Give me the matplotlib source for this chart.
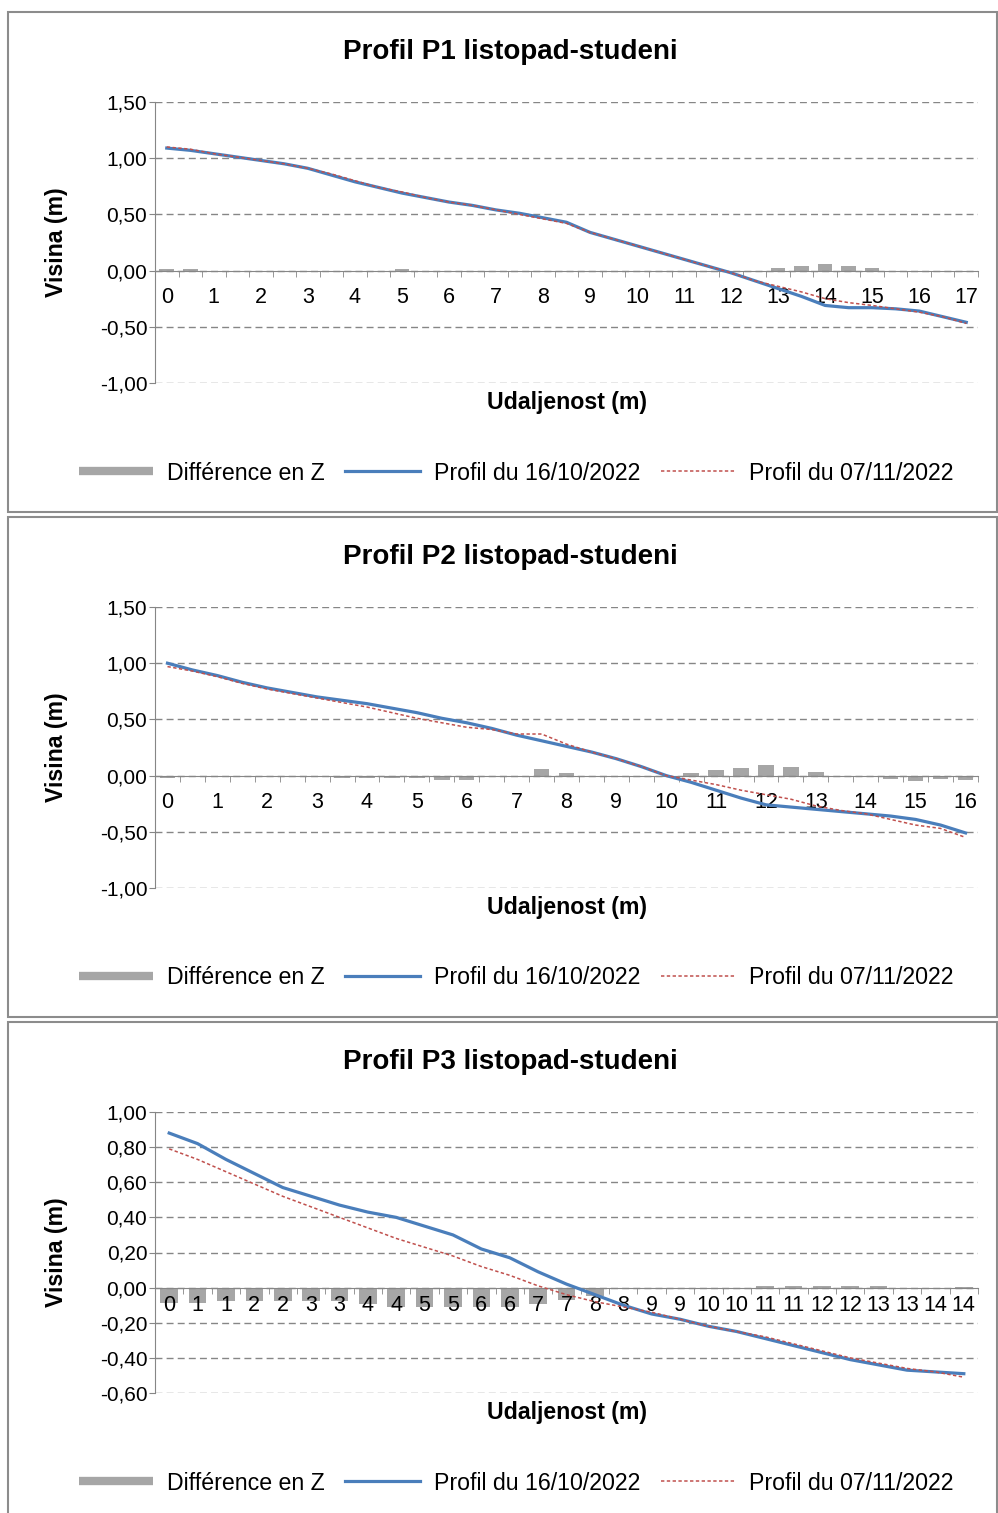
import numpy as np
import matplotlib
matplotlib.use('Agg')
from matplotlib import pyplot as plt
from matplotlib.lines import Line2D
from matplotlib.patches import Rectangle
from matplotlib.ticker import FuncFormatter

plt.rcParams['font.family'] = ['Liberation Sans', 'DejaVu Sans']

# ---- data (one point every 0.5 m) ----
p1_labels = [str(i) for i in range(18)]
p1_diff = [0.01, 0.01, 0, 0, 0, 0, 0, 0, 0, 0, 0.01, 0, 0, 0, 0, -0.01, -0.01, -0.01,
           0, 0, 0, 0, 0, 0, 0, 0, 0.02, 0.04, 0.06, 0.045, 0.02, 0, 0, 0, 0]
p1_oct = [1.09, 1.07, 1.04, 1.01, 0.98, 0.95, 0.91, 0.85, 0.79, 0.74, 0.69, 0.65,
          0.61, 0.58, 0.54, 0.51, 0.47, 0.43, 0.34, 0.28, 0.22, 0.16, 0.10, 0.04,
          -0.02, -0.09, -0.16, -0.23, -0.31, -0.33, -0.33, -0.34, -0.36, -0.41, -0.46]
p1_nov = [1.10, 1.08, 1.04, 1.01, 0.98, 0.95, 0.91, 0.86, 0.80, 0.74, 0.70, 0.65,
          0.61, 0.58, 0.54, 0.50, 0.46, 0.42, 0.34, 0.28, 0.22, 0.16, 0.10, 0.04,
          -0.02, -0.09, -0.14, -0.19, -0.25, -0.285, -0.31, -0.34, -0.37, -0.41, -0.47]

p2_labels = [str(i) for i in range(17)]
p2_diff = [-0.02, -0.01, -0.01, -0.01, -0.01, -0.01, -0.01, -0.02, -0.02, -0.02, -0.02,
           -0.04, -0.04, -0.01, 0, 0.06, 0.02, 0, 0, 0, 0, 0.02, 0.05, 0.07, 0.09,
           0.075, 0.03, 0, 0, -0.03, -0.05, -0.03, -0.04]
p2_oct = [1.00, 0.94, 0.89, 0.83, 0.78, 0.74, 0.70, 0.67, 0.64, 0.60, 0.56, 0.51,
          0.47, 0.42, 0.36, 0.31, 0.26, 0.21, 0.15, 0.08, 0.00, -0.06, -0.13, -0.20,
          -0.26, -0.28, -0.30, -0.32, -0.34, -0.36, -0.39, -0.44, -0.51]
p2_nov = [0.97, 0.93, 0.88, 0.82, 0.77, 0.73, 0.69, 0.65, 0.61, 0.56, 0.51, 0.47,
          0.43, 0.41, 0.37, 0.37, 0.28, 0.21, 0.15, 0.08, 0.00, -0.04, -0.08, -0.13,
          -0.17, -0.21, -0.27, -0.31, -0.34, -0.39, -0.44, -0.47, -0.55]

p3_labels = ['0', '1', '1', '2', '2', '3', '3', '4', '4', '5', '5', '6', '6', '7', '7',
             '8', '8', '9', '9', '10', '10', '11', '11', '12', '12', '13', '13', '14', '14']
p3_diff = [-0.086, -0.086, -0.077, -0.077, -0.077, -0.077, -0.077, -0.092, -0.11, -0.11,
           -0.11, -0.11, -0.11, -0.092, -0.073, -0.05, -0.01, -0.01, 0, 0, 0, 0.01, 0.01,
           0.01, 0.01, 0.01, 0, 0, 0.005]
p3_oct = [0.88, 0.82, 0.73, 0.65, 0.57, 0.52, 0.47, 0.43, 0.40, 0.35, 0.30, 0.22, 0.17,
          0.09, 0.02, -0.04, -0.10, -0.15, -0.18, -0.22, -0.25, -0.29, -0.33, -0.37,
          -0.41, -0.44, -0.47, -0.48, -0.49]
p3_nov = [0.79, 0.73, 0.66, 0.59, 0.52, 0.46, 0.40, 0.34, 0.28, 0.23, 0.18, 0.12, 0.07,
          0.01, -0.04, -0.08, -0.11, -0.14, -0.18, -0.22, -0.25, -0.28, -0.32, -0.36,
          -0.40, -0.43, -0.46, -0.48, -0.51]

titles = ['Profil P1 listopad-studeni', 'Profil P2 listopad-studeni', 'Profil P3 listopad-studeni']
legend_labels = ['Différence en Z', 'Profil du 16/10/2022', 'Profil du 07/11/2022']

W, H = 998, 1513
GRAY = '#868686'
BAR = '#A6A6A6'
BLUE = '#4A7EBB'
RED = '#C0504D'


def fx(x):
    return x / W


def fy(y):
    return 1 - y / H


fig = plt.figure(figsize=(W / 100, H / 100), dpi=100)

panels = [
    (p1_labels, 2, p1_diff, p1_oct, p1_nov, (-1.0, 1.5), 0.5, 0, 12),
    (p2_labels, 2, p2_diff, p2_oct, p2_nov, (-1.0, 1.5), 0.5, 505, 12),
    (p3_labels, 1, p3_diff, p3_oct, p3_nov, (-0.6, 1.0), 0.2, 1010, 5),
]

for k, (labels, step, diff, oct_, nov, ylim, ystep, off, xpad) in enumerate(panels):
    top, bottom = 102 + off, 383 + off
    ax = fig.add_axes([fx(155), fy(bottom), (978 - 155) / W, (bottom - top) / H])
    n = len(oct_)
    x = np.arange(n)
    ax.bar(x, diff, width=0.62, color=BAR, zorder=1.2)
    ax.plot(x, oct_, color=BLUE, lw=2.3, zorder=3)
    ax.plot(x, nov, color=RED, lw=1.1, ls=(0, (2.2, 1.6)), zorder=4)

    ax.set_xlim(-0.5, n - 0.5)
    ax.set_ylim(*ylim)
    ax.set_yticks(np.round(np.arange(ylim[0], ylim[1] + 1e-9, ystep), 2))
    ax.yaxis.set_major_formatter(FuncFormatter(lambda v, p: f'{v:.2f}'.replace('.', ',')))
    ax.grid(axis='y', color=GRAY, ls=(0, (5, 3)), lw=1.0)
    ax.set_axisbelow('line')

    for s in ['top', 'right']:
        ax.spines[s].set_visible(False)
    ax.spines['bottom'].set_position(('data', 0))
    ax.spines['left'].set_color(GRAY)
    ax.spines['bottom'].set_color(GRAY)

    ax.set_xticks(x[::step])
    ax.set_xticklabels(labels)
    ax.set_xticks(np.arange(-0.5, n), minor=True)
    ax.tick_params(axis='x', which='major', length=0, pad=xpad, labelsize=15.5)
    ax.tick_params(axis='x', which='minor', length=4, color=GRAY, direction='out')
    ax.tick_params(axis='y', length=4, color=GRAY, pad=1.5, labelsize=15)

    fig.text(fx(510), fy(52 + off), titles[k], ha='center', va='center',
             fontsize=20, fontweight='bold')
    fig.text(fx(57), fy((top + bottom) / 2), 'Visina (m)', ha='center', va='center',
             rotation=90, fontsize=16.7, fontweight='bold')
    fig.text(fx(567), fy(402 + off), 'Udaljenost (m)', ha='center', va='center',
             fontsize=16.7, fontweight='bold')

    handles = [
        Line2D([], [], color=BAR, lw=6, solid_capstyle='butt'),
        Line2D([], [], color=BLUE, lw=2.3),
        Line2D([], [], color=RED, lw=1.1, ls=(0, (2.2, 1.6))),
    ]
    fig.legend(handles, legend_labels, loc='center', bbox_to_anchor=(fx(516), fy(473 + off)),
               ncol=3, frameon=False, fontsize=16.7, handlelength=3.2,
               handletextpad=0.6, columnspacing=0.9)

    # chart border box
    y0, y1 = 12 + off, 512 + off
    fig.add_artist(Rectangle((fx(8), fy(y1)), fx(997) - fx(8), fy(y0) - fy(y1),
                             transform=fig.transFigure, fill=False, ec='#8C8C8C', lw=1.5))

fig.savefig('out.png', dpi=100)
